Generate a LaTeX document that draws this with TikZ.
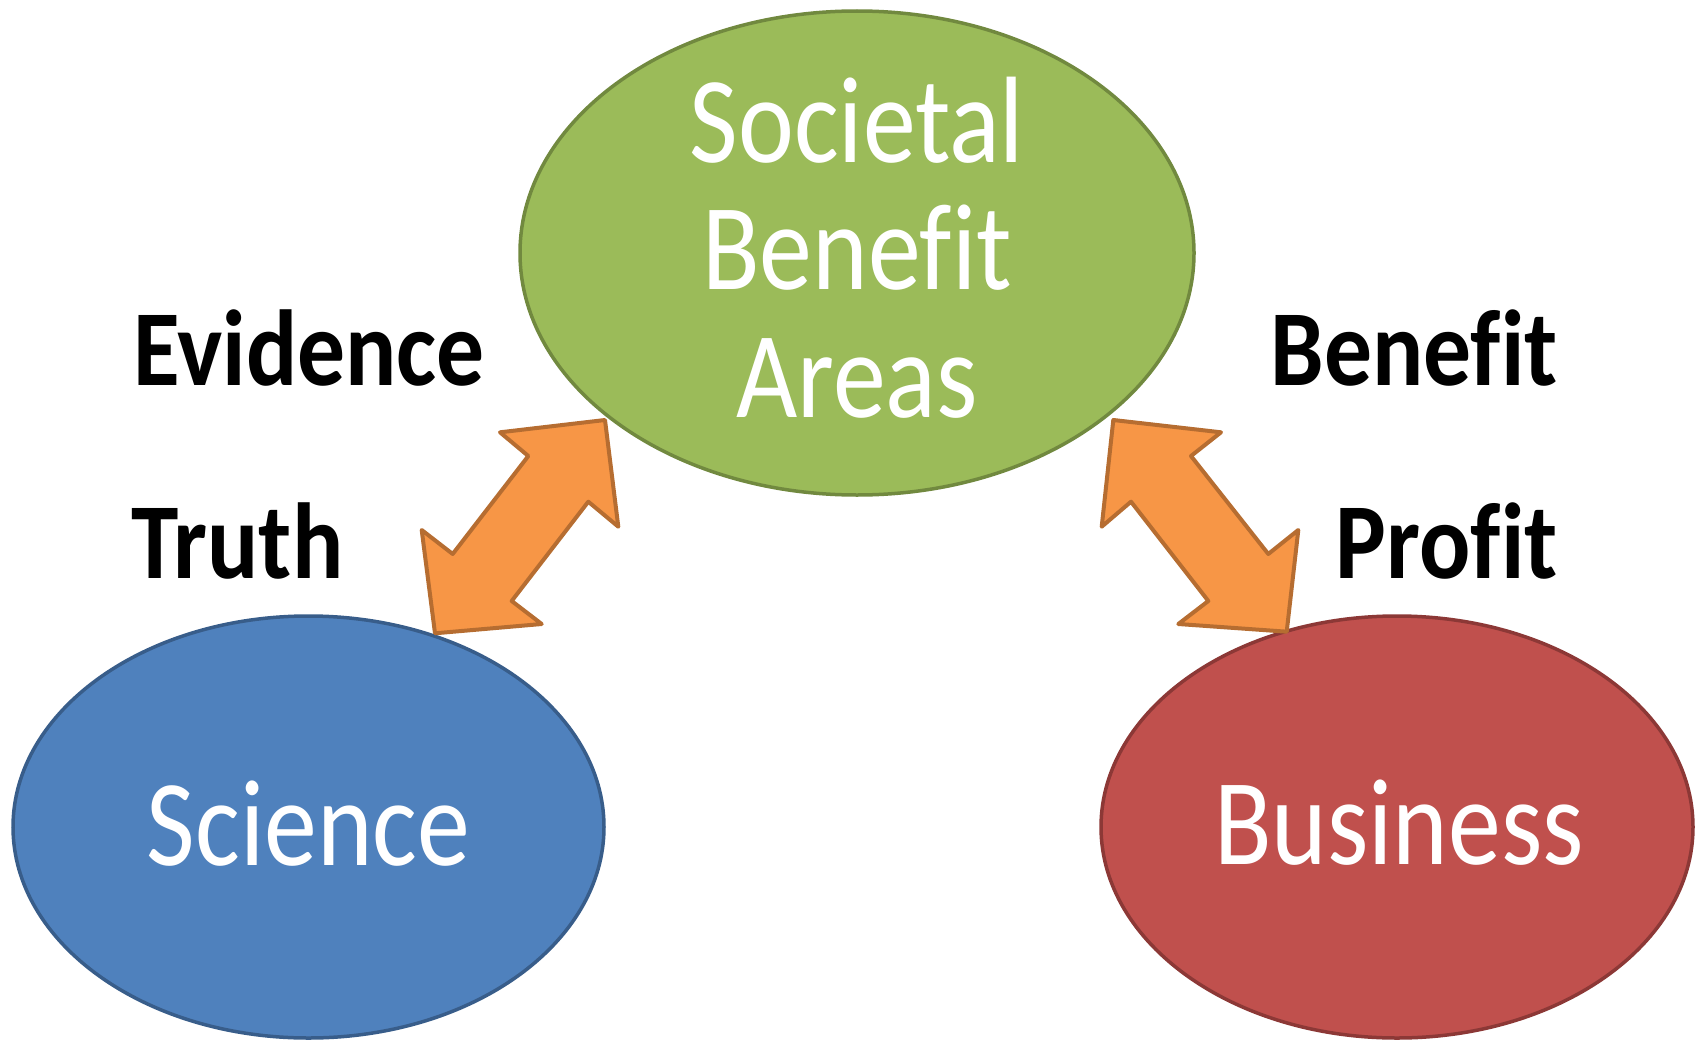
\documentclass[tikz,border=0pt]{standalone}
\usepackage{fontspec}
\newfontfamily\cw[FakeStretch=0.86, Ligatures={NoCommon}]{Carlito}
\newfontfamily\cb[FakeStretch=0.885, Ligatures={NoCommon}]{Carlito}
\usetikzlibrary{shapes.geometric}
\definecolor{gfill}{HTML}{9BBB59}
\definecolor{gline}{HTML}{71893F}
\definecolor{bfill}{HTML}{4F81BD}
\definecolor{bline}{HTML}{385D8A}
\definecolor{rfill}{HTML}{C0504D}
\definecolor{rline}{HTML}{8C3836}
\definecolor{ofill}{HTML}{F79646}
\definecolor{oline}{HTML}{B66D31}
\tikzset{
  ell/.style={ellipse, inner sep=0pt, line width=3.5pt},
  wtext/.style={anchor=base, inner sep=0pt, text=white, font=\cw\fontsize{123}{127}\selectfont},
  btext/.style={anchor=base, inner sep=0pt, text=black, font=\cb\bfseries\fontsize{108}{112}\selectfont},
  blockarrow/.style={fill=ofill, draw=oline, line width=4pt, line join=round}
}
\begin{document}
\begin{tikzpicture}[x=1pt,y=-1pt]
\useasboundingbox (0,0) rectangle (1700,1041);
\node[ell, fill=gfill, draw=gline, minimum width=674pt, minimum height=484pt] (sba) at (857,253) {};
\node[ell, fill=bfill, draw=bline, minimum width=591pt, minimum height=422pt] (sci) at (308.5,827) {};
\node[ell, fill=rfill, draw=rline, minimum width=592pt, minimum height=422pt] (bus) at (1397,827) {};
\node[wtext] (l1) at (857,162.6) {Societal};
\node[wtext] (l2) at (857,289.5) {Benefit};
\node[wtext] (l3) at (857,417.4) {Areas};
\node[wtext] (scit) at (308.5,865) {Science};
\node[wtext] (bust) at (1399,864) {Business};
\node[btext, anchor=base west] (ev) at (133,385) {Evidence};
\node[btext, anchor=base west] (tr) at (131,578) {Truth};
\node[btext, anchor=base east] (be) at (1558,385) {Benefit};
\node[btext, anchor=base east] (pr) at (1558,578) {Profit};
% left block arrow
\draw[blockarrow] (605,420) -- (618.3,526.7) -- (588.3,501.7) -- (511.7,601) -- (541.7,624)
  -- (435,633.3) -- (421.7,530) -- (452.7,554) -- (528.3,456) -- (500,432.3) -- cycle;
% right block arrow
\draw[blockarrow] (1113.3,420) -- (1221,432.3) -- (1191,456) -- (1268.3,554) -- (1298.3,530)
  -- (1286.7,631.7) -- (1178.3,624) -- (1208.3,601) -- (1131,501.7) -- (1101.7,526.7) -- cycle;
\end{tikzpicture}
\end{document}
